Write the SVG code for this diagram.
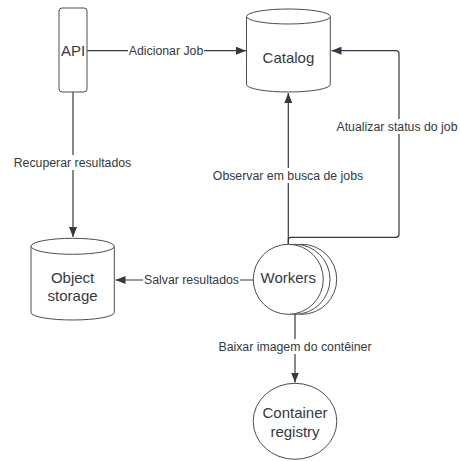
<svg xmlns="http://www.w3.org/2000/svg" width="460" height="461" viewBox="0 0 460 461">
  <style>
    .shape { fill: #ffffff; stroke: #4d4d4d; stroke-width: 1; }
    .edge { fill: none; stroke: #333a42; stroke-width: 1.2; }
    .node-text { font-family: "Liberation Sans", Arial, sans-serif; font-size: 15px; fill: #333a42; text-anchor: middle; }
    .edge-text { font-family: "Liberation Sans", Arial, sans-serif; font-size: 12.3px; fill: #333a42; text-anchor: middle; }
    .label-bg { fill: #ffffff; }
  </style>
  <defs>
    <marker id="arrow" viewBox="0 0 10 8" refX="10" refY="4" markerWidth="10" markerHeight="8" markerUnits="userSpaceOnUse" orient="auto">
      <path d="M0,0 L10,4 L0,8 Z" fill="#333a42"/>
    </marker>
  </defs>

  <rect width="460" height="461" fill="#ffffff"/>

  <!-- connectors -->
  <g id="connectors">
    <path class="edge" d="M87,50.7 H246" marker-end="url(#arrow)"/>
    <path class="edge" d="M73,92 V237" marker-end="url(#arrow)"/>
    <path class="edge" d="M288.3,244 V93" marker-end="url(#arrow)"/>
    <path class="edge" d="M288.3,244 V240 Q288.3,237.3 291,237.3 H396 Q399,237.3 399,234.3 V53.7 Q399,50.7 396,50.7 H331.5" marker-end="url(#arrow)"/>
    <path class="edge" d="M253.3,280 H115.5" marker-end="url(#arrow)"/>
    <path class="edge" d="M295,314 V382.5" marker-end="url(#arrow)"/>

    <!-- connector labels -->
    <rect class="label-bg" x="128" y="43" width="76" height="15"/>
    <text class="edge-text" x="166" y="55">Adicionar Job</text>

    <rect class="label-bg" x="13" y="155" width="120" height="15"/>
    <text class="edge-text" x="72.5" y="167.3">Recuperar resultados</text>

    <rect class="label-bg" x="212" y="168" width="152" height="15"/>
    <text class="edge-text" x="288" y="180.3">Observar em busca de jobs</text>

    <rect class="label-bg" x="337" y="119" width="120" height="15"/>
    <text class="edge-text" x="397" y="131.3">Atualizar status do job</text>

    <rect class="label-bg" x="143" y="272" width="97" height="15"/>
    <text class="edge-text" x="191.5" y="284.3">Salvar resultados</text>

    <rect class="label-bg" x="218" y="339" width="154" height="15"/>
    <text class="edge-text" x="295" y="351.3">Baixar imagem do contêiner</text>
  </g>

  <!-- API -->
  <g id="api">
    <rect class="shape" x="59" y="8" width="28" height="84" rx="3"/>
    <text class="node-text" x="73" y="55.5">API</text>
  </g>

  <!-- Catalog -->
  <g id="catalog">
    <path class="shape" d="M246.5,16.5 V84.5 A41.9,7.5 0 0 0 330.3,84.5 V16.5 A41.9,7.5 0 0 0 246.5,16.5 Z"/>
    <path class="shape" fill="none" d="M246.5,16.5 A41.9,7.5 0 0 0 330.3,16.5"/>
    <text class="node-text" x="288.4" y="62.5">Catalog</text>
  </g>

  <!-- Object storage -->
  <g id="object-storage">
    <path class="shape" d="M31,246.3 V312.5 A41.65,7.5 0 0 0 114.3,312.5 V246.3 A41.65,8 0 0 0 31,246.3 Z"/>
    <path class="shape" fill="none" d="M31,246.3 A41.65,8 0 0 0 114.3,246.3"/>
    <text class="node-text" x="72.6" y="282.5">Object</text>
    <text class="node-text" x="72.6" y="300.5">storage</text>
  </g>

  <!-- Workers (stacked circles) -->
  <g id="workers">
    <circle class="shape" cx="301.7" cy="279.3" r="35"/>
    <circle class="shape" cx="295" cy="279.3" r="35"/>
    <circle class="shape" cx="288.3" cy="279.3" r="35"/>
    <text class="node-text" x="288.3" y="282.8">Workers</text>
  </g>

  <!-- Container registry -->
  <g id="container-registry">
    <ellipse class="shape" cx="295" cy="421.3" rx="41.8" ry="38"/>
    <text class="node-text" x="295" y="417.5">Container</text>
    <text class="node-text" x="295" y="436.5">registry</text>
  </g>
</svg>
